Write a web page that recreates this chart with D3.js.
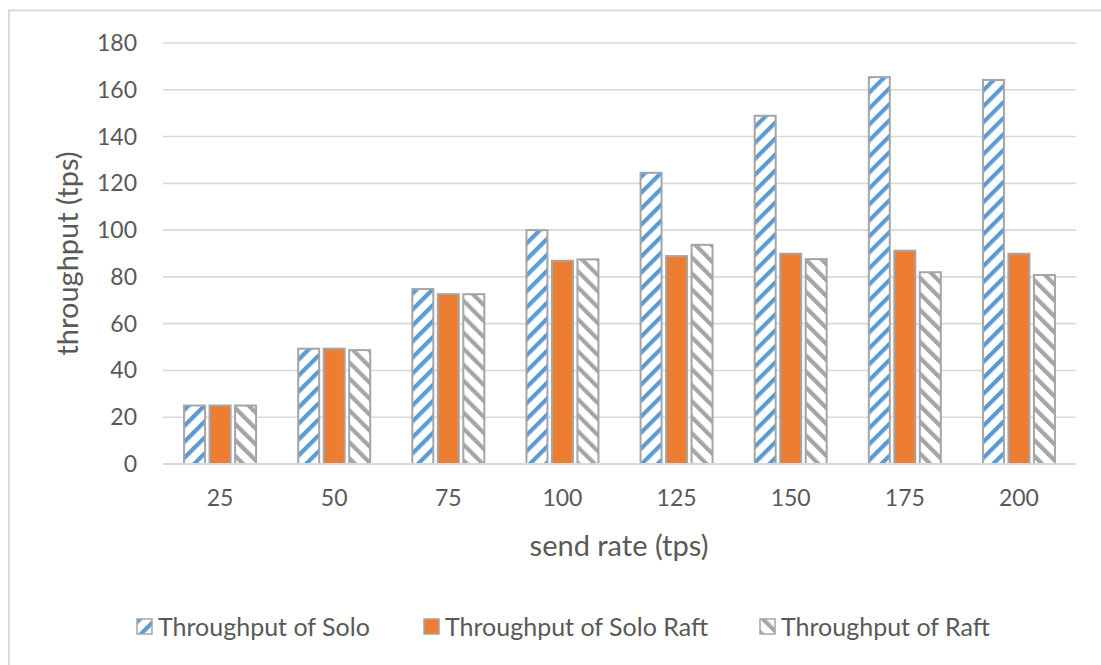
<!DOCTYPE html>
<html>
<head>
<meta charset="utf-8">
<script src="https://cdn.jsdelivr.net/npm/d3@7"></script>
<style>
  html, body { margin: 0; padding: 0; background: #fff; }
  svg { display: block; font-family: Lato, "Open Sans", sans-serif; }
</style>
</head>
<body>
<svg id="chart" width="1101" height="665"></svg>
<script>
// Send rates on the x axis
const sendRates = ["25", "50", "75", "100", "125", "150", "175", "200"];
// Measured throughput for each configuration (tps)
const soloValues = [25, 49.3, 74.8, 100, 124.5, 148.9, 165.4, 164.2];
const soloRaftValues = [25, 49.3, 72.6, 86.9, 88.9, 89.9, 91.2, 89.9];
const raftValues = [25, 48.7, 72.6, 87.5, 93.7, 87.6, 82, 80.8];
const seriesNames = ["Throughput of Solo", "Throughput of Solo Raft", "Throughput of Raft"];
const yTicks = [0, 20, 40, 60, 80, 100, 120, 140, 160, 180];

const series = [
  { name: seriesNames[0], values: soloValues, fill: "url(#stripeBlue)" },
  { name: seriesNames[1], values: soloRaftValues, fill: "#ed7d31" },
  { name: seriesNames[2], values: raftValues, fill: "url(#stripeGray)" }
];

const svg = d3.select("#chart");
const textColor = "#595959";

// Hatch patterns for the striped bars
const defs = svg.append("defs");
function stripe(id, color, angle) {
  const p = defs.append("pattern")
    .attr("id", id)
    .attr("patternUnits", "userSpaceOnUse")
    .attr("width", 11.3).attr("height", 11.3)
    .attr("patternTransform", `rotate(${angle})`);
  p.append("rect").attr("width", 11.3).attr("height", 11.3).attr("fill", "#fff");
  p.append("rect").attr("x", 0).attr("y", 0).attr("width", 4.2).attr("height", 11.3).attr("fill", color);
}
stripe("stripeBlue", "#5b9bd5", 45);
stripe("stripeGray", "#a5a5a5", -45);

// Chart frame
svg.append("path")
  .attr("d", "M9,665 L9,10.5 L1101,10.5")
  .attr("fill", "none")
  .attr("stroke", "#d9d9d9")
  .attr("stroke-width", 2);

const margin = { left: 163, right: 1076, top: 43, bottom: 464 };

const x = d3.scaleBand()
  .domain(sendRates)
  .range([margin.left, margin.right])
  .paddingInner(0)
  .paddingOuter(0);

const y = d3.scaleLinear()
  .domain([0, 180])
  .range([margin.bottom, margin.top]);

// Gridlines
svg.append("g")
  .selectAll("line")
  .data(yTicks)
  .join("line")
  .attr("x1", margin.left)
  .attr("x2", margin.right)
  .attr("y1", d => y(d))
  .attr("y2", d => y(d))
  .attr("stroke", "#d9d9d9")
  .attr("stroke-width", 1.6);

// Y tick labels
svg.append("g")
  .selectAll("text")
  .data(yTicks)
  .join("text")
  .attr("x", 137)
  .attr("y", d => y(d))
  .attr("dy", "0.35em")
  .attr("text-anchor", "end")
  .attr("font-size", 23)
  .attr("fill", textColor)
  .text(d => d);

// X tick labels
svg.append("g")
  .selectAll("text")
  .data(sendRates)
  .join("text")
  .attr("x", d => x(d) + x.bandwidth() / 2)
  .attr("y", 506)
  .attr("text-anchor", "middle")
  .attr("font-size", 23)
  .attr("fill", textColor)
  .text(d => d);

// Bars
const barW = 21, gap = 4.5;
const groupW = barW * 3 + gap * 2;

const groups = svg.append("g")
  .selectAll("g")
  .data(series)
  .join("g");

groups.selectAll("rect")
  .data((s, si) => s.values.map((v, i) => ({ v, cat: sendRates[i], s, si })))
  .join("rect")
  .attr("x", d => x(d.cat) + x.bandwidth() / 2 - groupW / 2 + d.si * (barW + gap))
  .attr("y", d => y(d.v))
  .attr("width", barW)
  .attr("height", d => y(0) - y(d.v))
  .attr("fill", d => d.s.fill)
  .attr("stroke", "#a5a5a5")
  .attr("stroke-width", 2);

// X axis line
svg.append("line")
  .attr("x1", margin.left).attr("x2", margin.right)
  .attr("y1", y(0)).attr("y2", y(0))
  .attr("stroke", "#d9d9d9")
  .attr("stroke-width", 2);

// Axis titles
svg.append("text")
  .attr("transform", `translate(78, ${(margin.top + margin.bottom) / 2}) rotate(-90)`)
  .attr("text-anchor", "middle")
  .attr("font-size", 29)
  .attr("fill", textColor)
  .text("throughput (tps)");

svg.append("text")
  .attr("x", 619)
  .attr("y", 556)
  .attr("text-anchor", "middle")
  .attr("font-size", 29)
  .attr("fill", textColor)
  .text("send rate (tps)");

// Legend
const legendX = [137, 424, 760];
const legend = svg.append("g")
  .selectAll("g")
  .data(series)
  .join("g")
  .attr("transform", (d, i) => `translate(${legendX[i]}, 619)`);

legend.append("rect")
  .attr("width", 15).attr("height", 15)
  .attr("fill", d => d.fill)
  .attr("stroke", "#a5a5a5")
  .attr("stroke-width", 1.5);

legend.append("text")
  .attr("x", 21)
  .attr("y", 8)
  .attr("dy", "0.35em")
  .attr("font-size", 25)
  .attr("fill", textColor)
  .text(d => d.name);
</script>
</body>
</html>
